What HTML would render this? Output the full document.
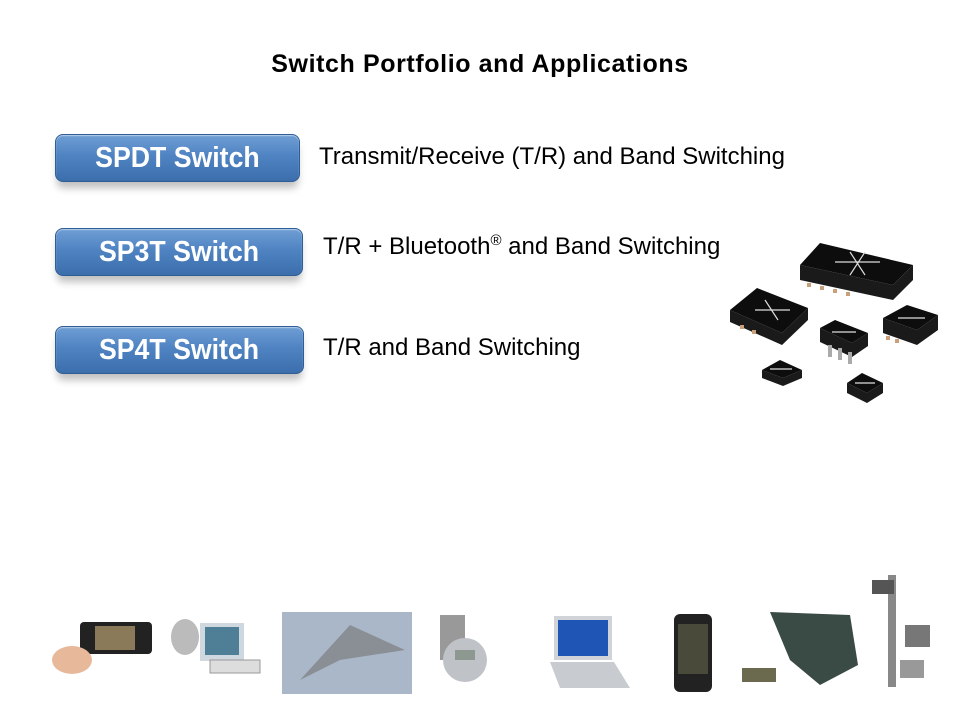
<!DOCTYPE html>
<html><head><meta charset="utf-8"><style>
body{margin:0;width:960px;height:720px;background:#fff;position:relative;overflow:hidden;font-family:"Liberation Sans",sans-serif}
.t{position:absolute;left:0;width:960px;top:50px;text-align:center;font-weight:bold;font-size:25px;letter-spacing:0.6px;color:#000}
.b{position:absolute;height:46px;border-radius:8px;background:linear-gradient(#6f9ed4,#4f83c2 45%,#3c6eac);border:1px solid #2f5d96;box-shadow:0 8px 8px -2px rgba(0,0,0,.25), inset 0 1px 1px rgba(255,255,255,.5);color:#fff;font-weight:bold;font-size:29px;text-align:center;line-height:46px}
.b span{display:inline-block;transform:scaleX(.92)}
.d{position:absolute;font-size:24px;color:#000;white-space:nowrap}
</style></head><body>
<div class="t">Switch Portfolio and Applications</div>
<div class="b" style="left:55px;top:134px;width:243px"><span>SPDT Switch</span></div>
<div class="b" style="left:55px;top:228px;width:246px"><span>SP3T Switch</span></div>
<div class="b" style="left:55px;top:326px;width:247px"><span>SP4T Switch</span></div>
<div class="d" style="left:319px;top:143px">Transmit/Receive (T/R) and Band Switching</div>
<div class="d" style="left:323px;top:232px">T/R + Bluetooth<sup style="font-size:15px">®</sup> and Band Switching</div>
<div class="d" style="left:323px;top:334px">T/R and Band Switching</div>
<svg width="960" height="720" style="position:absolute;left:0;top:0">
<g fill="#0d0d0d">
<polygon points="800,265 820,243 913,265 893,285"/><polygon points="800,265 893,285 913,265 913,280 893,300 800,280" fill="#1a1a1a"/>
<polygon points="730,310 757,288 808,308 782,333"/><polygon points="730,310 782,333 808,308 808,320 782,345 730,322" fill="#1a1a1a"/>
<polygon points="883,318 907,305 938,315 917,330"/><polygon points="883,318 917,330 938,315 938,330 917,345 883,333" fill="#1a1a1a"/>
<polygon points="820,328 835,320 868,333 852,343"/><polygon points="820,328 852,343 868,333 868,346 852,357 820,342" fill="#1a1a1a"/>
<polygon points="762,370 780,360 802,370 783,378"/><polygon points="762,370 783,378 802,370 802,378 783,386 762,378" fill="#1a1a1a"/>
<polygon points="847,383 862,373 883,383 867,393"/><polygon points="847,383 867,393 883,383 883,393 867,403 847,393" fill="#1a1a1a"/>
</g>
<g stroke="#ddd" stroke-width="1.2">
<line x1="835" y1="262" x2="880" y2="262"/><line x1="850" y1="252" x2="865" y2="275"/><line x1="865" y1="252" x2="850" y2="275"/>
<line x1="755" y1="310" x2="790" y2="310"/><line x1="765" y1="300" x2="778" y2="320"/>
<line x1="898" y1="318" x2="925" y2="318"/><line x1="832" y1="332" x2="856" y2="332"/>
<line x1="770" y1="369" x2="792" y2="369"/><line x1="855" y1="383" x2="875" y2="383"/>
</g>
<g fill="#c9a07a"><rect x="807" y="283" width="4" height="4"/><rect x="820" y="286" width="4" height="4"/><rect x="833" y="289" width="4" height="4"/><rect x="846" y="292" width="4" height="4"/><rect x="740" y="325" width="4" height="4"/><rect x="752" y="330" width="4" height="4"/><rect x="886" y="336" width="4" height="4"/><rect x="895" y="339" width="4" height="4"/></g>
<g fill="#aaa"><rect x="828" y="345" width="4" height="12"/><rect x="838" y="348" width="4" height="12"/><rect x="848" y="352" width="4" height="12"/></g>
<g>
<rect x="80" y="622" width="72" height="32" rx="4" fill="#222"/><rect x="95" y="626" width="40" height="24" fill="#8a7a5a"/>
<ellipse cx="72" cy="660" rx="20" ry="14" fill="#e7b99a"/>
<rect x="200" y="623" width="44" height="38" fill="#cfd8de"/><rect x="205" y="627" width="34" height="28" fill="#4f7f96"/>
<ellipse cx="185" cy="637" rx="14" ry="18" fill="#bbb"/><rect x="210" y="660" width="50" height="13" fill="#ddd" stroke="#999"/>
<rect x="282" y="612" width="130" height="82" fill="#aab7c9"/><polygon points="300,680 350,625 405,650 340,660" fill="#8a8f95"/>
<rect x="440" y="615" width="25" height="45" fill="#999"/><circle cx="465" cy="660" r="22" fill="#bfc3c8"/><rect x="455" y="650" width="20" height="10" fill="#8d9891"/>
<rect x="554" y="616" width="58" height="44" fill="#d0d4d8"/><rect x="558" y="620" width="50" height="36" fill="#1f56b5"/><polygon points="550,662 614,662 630,688 560,688" fill="#c8ccd0"/>
<rect x="674" y="614" width="38" height="78" rx="6" fill="#222"/><rect x="678" y="624" width="30" height="50" fill="#4a4a3a"/>
<polygon points="770,612 850,615 858,665 820,685 790,660" fill="#3a4a44"/><rect x="742" y="668" width="34" height="14" fill="#6b6a4e"/>
<rect x="888" y="575" width="8" height="112" fill="#888"/><rect x="872" y="580" width="22" height="14" fill="#555"/><rect x="905" y="625" width="25" height="22" fill="#777"/><rect x="900" y="660" width="24" height="18" fill="#999"/>
</g>
</svg>
</body></html>
